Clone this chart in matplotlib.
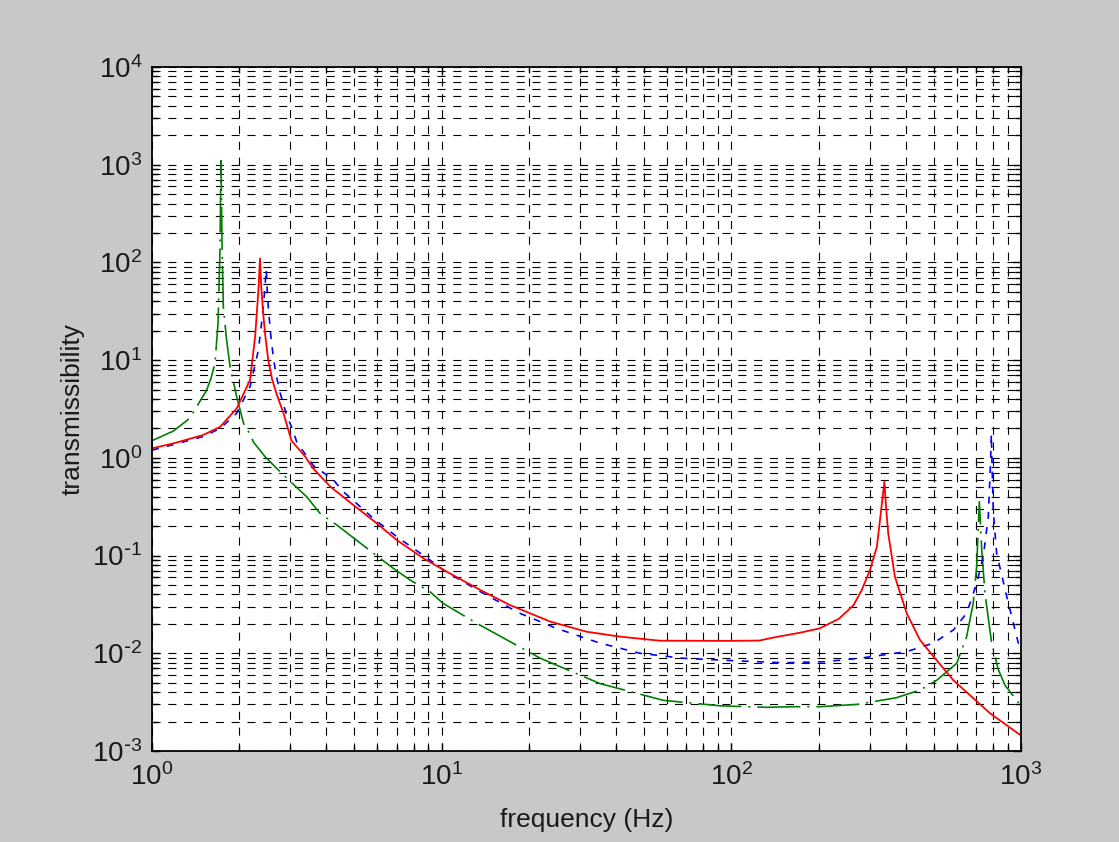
import numpy as np
import matplotlib
matplotlib.use("Agg")
import matplotlib.pyplot as plt
from matplotlib.ticker import LogLocator, NullFormatter, FuncFormatter

# ---- data ----
red_f = [1.0, 1.2, 1.5, 1.72, 1.96, 2.18, 2.27, 2.33, 2.36, 2.38, 2.42, 2.46, 2.52, 2.6, 2.7,
         2.84, 3.03, 3.38, 3.6, 4.12, 4.95, 5.97, 7.0, 8.64, 10.4, 13.6, 17.2, 23.7, 31.7,
         41.3, 56.7, 100, 125, 140, 172, 202, 235, 264, 282, 301, 318, 324, 330, 337.6, 342, 348, 367,
         403, 448, 500, 584, 782, 1000]
red_v = [1.25, 1.42, 1.71, 2.08, 3.2, 6.27, 17.4, 52, 110, 60, 30, 18, 10, 6.3, 4.4,
         2.9, 1.5, 1.03, 0.78, 0.51, 0.33, 0.214, 0.144, 0.094, 0.0685, 0.0444, 0.0312, 0.0211, 0.0166,
         0.0148, 0.01345, 0.0134, 0.0135, 0.0145, 0.0162, 0.018, 0.0225, 0.031, 0.0444, 0.071, 0.123, 0.198, 0.316, 0.57, 0.316, 0.169, 0.061,
         0.0257, 0.0137, 0.0092, 0.0053, 0.00243, 0.00144]

blue_f = [1.0, 1.2, 1.5, 1.72, 1.96, 2.18, 2.33, 2.39, 2.44, 2.48, 2.50, 2.52, 2.57, 2.63, 2.7,
          2.77, 2.92, 3.07, 3.16, 3.6, 4.23, 4.58, 5.81, 7.0, 9.11, 10.5, 11.6, 13.6, 18.6, 24.9,
          35.2, 48.4, 68, 101.6, 151, 210, 278, 403, 498, 584, 649, 703, 741, 771, 785, 790,
          796, 802, 824, 893, 979, 1000]
blue_v = [1.2, 1.38, 1.65, 2.0, 2.86, 5.35, 12.7, 24, 45, 85, 50, 35, 18, 10, 6.5,
          4.6, 2.7, 1.9, 1.45, 0.84, 0.594, 0.45, 0.24, 0.156, 0.0901, 0.066, 0.0562, 0.0427, 0.0257, 0.018,
          0.0127, 0.010, 0.0089, 0.0084, 0.0080, 0.0082, 0.0089, 0.0104, 0.0127, 0.0173, 0.0257, 0.052, 0.0975, 0.25, 0.9, 1.75,
          0.7, 0.29, 0.105, 0.038, 0.0127, 0.012]

green_f = [1.0, 1.185, 1.35, 1.545, 1.6, 1.65, 1.69, 1.717, 1.73, 1.745, 1.763, 1.81, 1.86, 1.96, 2.07,
           2.18, 2.24, 2.455, 2.84, 3.42, 3.8, 4.34, 6.12, 6.81, 7.78, 9.11, 10.1, 13.2, 21.9, 35.2,
           58.2, 91.4, 132.5, 163, 202, 272, 370, 448, 512, 600, 649, 684, 703, 718, 732, 751, 792,
           835, 881, 1000]
green_v = [1.5, 1.88, 2.54, 4.95, 6.6, 9.3, 23.8, 134, 1100, 150, 35, 16, 8.6, 4.23, 2.26,
           1.75, 1.45, 1.03, 0.668, 0.40, 0.271, 0.206, 0.094, 0.074, 0.0562, 0.0427, 0.0325, 0.0203, 0.0089, 0.0049,
           0.0033, 0.0029, 0.0028, 0.00284, 0.00284, 0.0030, 0.0035, 0.0042, 0.0053, 0.0079, 0.0148, 0.0325, 0.077, 0.356, 0.114, 0.041, 0.0127,
           0.0068, 0.0047, 0.0029]

x_label = "frequency (Hz)"
y_label = "transmissibility"

# ---- style ----
plt.rcParams['font.family'] = ['Liberation Sans', 'DejaVu Sans']
plt.rcParams['axes.unicode_minus'] = False
plt.rcParams['lines.scale_dashes'] = False


def pow_label(v, pos):
    e = int(round(np.log10(v)))
    if e < 0:
        return r'$\mathdefault{10^{\text{-}%d}}$' % (-e)
    return r'$\mathdefault{10^{%d}}$' % e


fig = plt.figure(figsize=(11.19, 8.42), dpi=100, facecolor='#c8c8c8')
ax = fig.add_axes([152/1119, 1-751/842, (1021-152)/1119, (751-67)/842])
ax.set_facecolor('white')

ax.plot(green_f, green_v, color='#007f00', lw=1.2, linestyle=(0, (31, 5, 1.5, 5)))
ax.plot(blue_f, blue_v, color='#0000ff', lw=1.2, linestyle=(0, (5, 6)))
ax.plot(red_f, red_v, color='#ff0000', lw=1.3, linestyle='-')

ax.set_xscale('log')
ax.set_yscale('log')
ax.set_xlim(1, 1000)
ax.set_ylim(1e-3, 1e4)

for axis in (ax.xaxis, ax.yaxis):
    axis.set_major_locator(LogLocator(base=10, numticks=20))
    axis.set_minor_locator(LogLocator(base=10, subs=np.arange(2, 10), numticks=200))
    axis.set_minor_formatter(NullFormatter())
    axis.set_major_formatter(FuncFormatter(pow_label))

ax.set_axisbelow(True)
ax.grid(True, which='both', color='black', lw=0.8, linestyle=(0, (5.8, 5.6)))

ax.tick_params(which='both', direction='in', top=True, right=True, width=1.0,
               colors='black', labelcolor='#1a1a1a', labelsize=20)
ax.tick_params(which='major', length=6)
ax.tick_params(which='minor', length=4)
ax.tick_params(axis='x', which='major', pad=9)
ax.tick_params(axis='y', which='major', pad=7)

for s in ax.spines.values():
    s.set_linewidth(1.3)
    s.set_color('black')

ax.set_xlabel(x_label, fontsize=19, color='#1a1a1a')
ax.set_ylabel(y_label, fontsize=19, color='#1a1a1a')
ax.xaxis.label.set_va('center')
ax.xaxis.set_label_coords(0.5, (751-820)/684)
ax.yaxis.label.set_va('center')
ax.yaxis.set_label_coords((73-152)/869, 0.5)

fig.savefig('out.png', dpi=100, facecolor=fig.get_facecolor())
